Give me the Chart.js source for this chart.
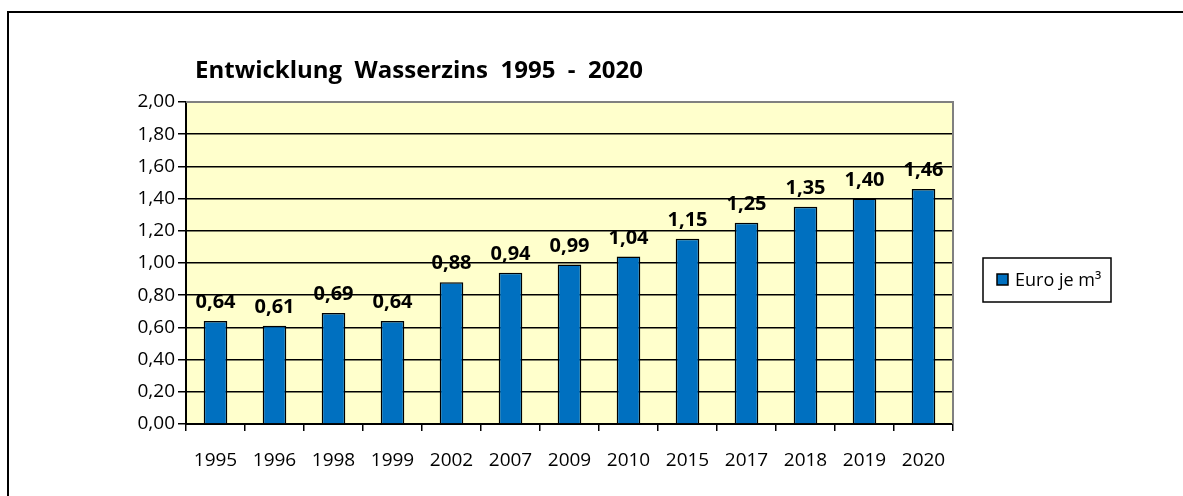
<!DOCTYPE html>
<html>
<head>
<meta charset="utf-8">
<script src="https://cdn.jsdelivr.net/npm/chart.js@4"></script>
<style>
  html, body { margin: 0; padding: 0; background: #fff; }
  #wrap { width: 1183px; height: 496px; }
</style>
</head>
<body>
<div id="wrap"><canvas id="wasserzins" width="1183" height="496"></canvas></div>
<script>
// data
const years = ["1995", "1996", "1998", "1999", "2002", "2007", "2009", "2010", "2015", "2017", "2018", "2019", "2020"];
const euroJeM3 = [0.64, 0.61, 0.69, 0.64, 0.88, 0.94, 0.99, 1.04, 1.15, 1.25, 1.35, 1.40, 1.46];
const seriesName = "Euro je m³";
const chartTitle = "Entwicklung  Wasserzins  1995  -  2020";

const FONT = "'Open Sans', 'Noto Sans', sans-serif";
const BAR_BLUE = "#0070C0";

function fmt(v){ return v.toFixed(2).replace('.', ','); }

// yellow plot area, outer frame, title
const backdrop = {
  id: 'backdrop',
  beforeDraw(chart){
    const ctx = chart.ctx, a = chart.chartArea;
    ctx.save();
    ctx.fillStyle = '#fff';
    ctx.fillRect(0, 0, chart.width, chart.height);
    ctx.fillStyle = '#FFFFCC';
    ctx.fillRect(a.left, a.top, a.right - a.left, a.bottom - a.top);
    // outer frame (runs off the right / bottom edge)
    ctx.strokeStyle = '#000';
    ctx.lineWidth = 2;
    ctx.strokeRect(8, 12, chart.width + 20, chart.height + 20);
    // title
    ctx.fillStyle = '#000';
    ctx.font = "bold 24px " + FONT;
    ctx.textAlign = 'left';
    ctx.textBaseline = 'alphabetic';
    ctx.fillText(chartTitle, 195, 78);
    ctx.restore();
  },
  beforeDatasetsDraw(chart){
    const ctx = chart.ctx, a = chart.chartArea;
    ctx.save();
    ctx.strokeStyle = '#808080';
    ctx.lineWidth = 2;
    ctx.beginPath();
    ctx.moveTo(a.left, a.top);
    ctx.lineTo(a.right, a.top);
    ctx.lineTo(a.right, a.bottom);
    ctx.stroke();
    ctx.restore();
  }
};

// value labels above the bars + boxed legend on the right
const labelsAndLegend = {
  id: 'labelsAndLegend',
  afterDatasetsDraw(chart){
    const ctx = chart.ctx;
    const meta = chart.getDatasetMeta(0);
    ctx.save();
    ctx.fillStyle = '#000';
    ctx.font = "bold 20px " + FONT;
    ctx.textAlign = 'center';
    ctx.textBaseline = 'alphabetic';
    meta.data.forEach((bar, i) => {
      ctx.fillText(fmt(euroJeM3[i]), bar.x, bar.y - 13);
    });

    // legend
    ctx.strokeStyle = '#000';
    ctx.lineWidth = 1.5;
    ctx.fillStyle = '#fff';
    ctx.fillRect(983, 258, 128, 44);
    ctx.strokeRect(983, 258, 128, 44);
    ctx.fillStyle = BAR_BLUE;
    ctx.fillRect(997, 274, 11, 11);
    ctx.strokeRect(997, 274, 11, 11);
    ctx.fillStyle = '#000';
    ctx.font = "18px " + FONT;
    ctx.textAlign = 'left';
    ctx.textBaseline = 'middle';
    ctx.fillText(seriesName, 1015, 281);
    ctx.restore();
  }
};

new Chart(document.getElementById('wasserzins'), {
  type: 'bar',
  data: {
    labels: years,
    datasets: [{
      label: seriesName,
      data: euroJeM3,
      backgroundColor: BAR_BLUE,
      borderColor: '#000',
      borderWidth: 1.5,
      barPercentage: 0.4,
      categoryPercentage: 1.0
    }]
  },
  options: {
    responsive: false,
    animation: false,
    devicePixelRatio: 1,
    layout: { padding: { left: 0, top: 102, right: 230, bottom: 0 } },
    plugins: {
      legend: { display: false },
      title: { display: false },
      tooltip: { enabled: false }
    },
    scales: {
      x: {
        offset: true,
        grid: {
          offset: true,
          drawOnChartArea: false,
          color: '#000',
          lineWidth: 1.5,
          tickLength: 7
        },
        border: { color: '#000', width: 2 },
        ticks: { color: '#000', font: { family: FONT, size: 19 }, padding: 18, maxRotation: 0 },
        afterFit(scale){ scale.height = 72; }
      },
      y: {
        min: 0,
        max: 2,
        ticks: {
          stepSize: 0.2,
          color: '#000',
          font: { family: FONT, size: 19 },
          padding: 3,
          callback: v => fmt(v)
        },
        grid: { color: '#000', lineWidth: 1.5, tickLength: 8 },
        border: { color: '#000', width: 2 },
        afterFit(scale){ scale.width = 186; }
      }
    }
  },
  plugins: [backdrop, labelsAndLegend]
});
</script>
</body>
</html>
